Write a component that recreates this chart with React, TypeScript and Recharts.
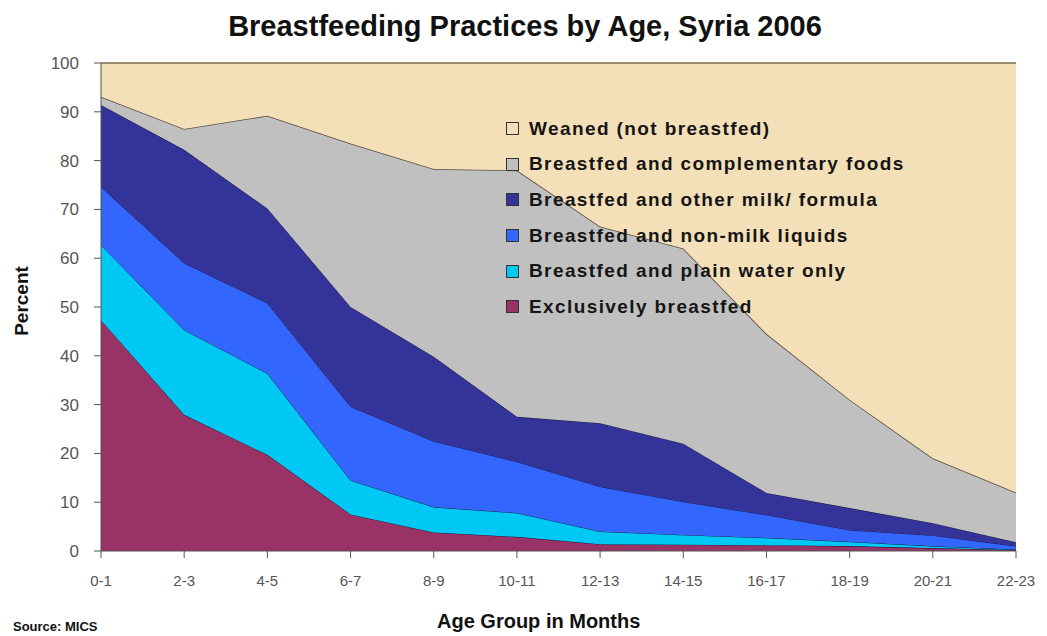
import React from "react";
import { AreaChart, Area, XAxis, YAxis } from "recharts";

const categories = ["0-1", "2-3", "4-5", "6-7", "8-9", "10-11", "12-13", "14-15", "16-17", "18-19", "20-21", "22-23"];
const exclusive = [47.3, 27.9, 19.7, 7.5, 3.8, 2.9, 1.4, 1.3, 1.2, 1.0, 0.6, 0.2];
const plainWater = [15.4, 17.4, 16.7, 7.0, 5.2, 4.9, 2.6, 2.0, 1.5, 0.9, 0.4, 0.1];
const nonMilk = [11.9, 13.7, 14.4, 15.1, 13.5, 10.5, 9.2, 6.8, 4.7, 2.4, 2.2, 0.7];
const otherMilk = [16.8, 23.2, 19.4, 20.4, 17.3, 9.2, 13.0, 11.9, 4.5, 4.5, 2.5, 0.8];
const complementary = [1.7, 4.3, 19.0, 33.5, 38.5, 50.5, 40.3, 40.0, 32.6, 22.2, 13.3, 10.2];
const weaned = [6.9, 13.5, 10.8, 16.5, 21.7, 22.0, 33.5, 38.0, 55.5, 69.0, 81.0, 88.0];
const yTicks = [0, 10, 20, 30, 40, 50, 60, 70, 80, 90, 100];

const series = [
  { key: "exclusive", name: "Exclusively breastfed", values: exclusive, fill: "#993366", stroke: "#1a1030" },
  { key: "water", name: "Breastfed and plain water only", values: plainWater, fill: "#00C8F5", stroke: "#10204a" },
  { key: "nonMilk", name: "Breastfed and non-milk liquids", values: nonMilk, fill: "#3366FF", stroke: "#101850" },
  { key: "otherMilk", name: "Breastfed and other milk/ formula", values: otherMilk, fill: "#333399", stroke: "#101030" },
  { key: "comp", name: "Breastfed and complementary foods", values: complementary, fill: "#C0C0C0", stroke: "#5a4e40" },
  { key: "weaned", name: "Weaned (not breastfed)", values: weaned, fill: "#F3DFB8", stroke: "#7a6a52" },
];

const data = categories.map((c, i) => {
  const row: Record<string, string | number> = { cat: c };
  series.forEach((s) => {
    row[s.key] = s.values[i];
  });
  return row;
});

const FONT = "Arial, 'Liberation Sans', sans-serif";

export default function App() {
  return (
    <div
      style={{
        position: "absolute",
        top: 0,
        left: 0,
        width: 1047,
        height: 636,
        overflow: "hidden",
        background: "#fff",
        fontFamily: FONT,
      }}
    >
      <div
        style={{
          position: "absolute",
          top: 10,
          left: 0,
          width: 1050,
          textAlign: "center",
          fontSize: 29,
          fontWeight: "bold",
          color: "#111",
          whiteSpace: "nowrap",
        }}
      >
        Breastfeeding Practices by Age, Syria 2006
      </div>
      <div style={{ position: "absolute", top: 0, left: 0 }}>
        <AreaChart
          width={1047}
          height={636}
          data={data}
          margin={{ top: 63, right: 31, bottom: 0, left: 0 }}
        >
          <XAxis
            dataKey="cat"
            height={85}
            tickLine={{ stroke: "#555" }}
            axisLine={{ stroke: "#555" }}
            tickSize={7}
            tick={{ fill: "#555", fontSize: 15, fontFamily: FONT }}
            tickMargin={17}
            interval={0}
          />
          <YAxis
            width={101}
            domain={[0, 100]}
            ticks={yTicks}
            interval={0}
            tickLine={{ stroke: "#555" }}
            axisLine={{ stroke: "#555" }}
            tickSize={7}
            tick={{ fill: "#555", fontSize: 17, fontFamily: FONT }}
            tickMargin={15}
          />
          {series.map((s) => (
            <Area
              key={s.key}
              type="linear"
              dataKey={s.key}
              name={s.name}
              stackId="a"
              fill={s.fill}
              fillOpacity={1}
              stroke={s.stroke}
              strokeWidth={s.key === "comp" || s.key === "weaned" ? 1.6 : 1}
              isAnimationActive={false}
              dot={false}
              activeDot={false}
            />
          ))}
        </AreaChart>
      </div>
      <div style={{ position: "absolute", left: 506, top: 111 }}>
        {[...series].reverse().map((s) => (
          <div key={s.key} style={{ display: "flex", alignItems: "center", height: 35.6 }}>
            <div
              style={{
                width: 11,
                height: 11,
                background: s.fill,
                border: "1px solid #333",
                marginRight: 10,
              }}
            />
            <span
              style={{
                fontSize: 19,
                fontWeight: "bold",
                color: "#151515",
                letterSpacing: 1.4,
                whiteSpace: "nowrap",
              }}
            >
              {s.name}
            </span>
          </div>
        ))}
      </div>
      <div
        style={{
          position: "absolute",
          left: 22,
          top: 301,
          transform: "translate(-50%, -50%) rotate(-90deg)",
          fontSize: 19,
          fontWeight: "bold",
          color: "#111",
          whiteSpace: "nowrap",
        }}
      >
        Percent
      </div>
      <div
        style={{
          position: "absolute",
          top: 610,
          left: 437,
          fontSize: 20,
          fontWeight: "bold",
          color: "#111",
          whiteSpace: "nowrap",
        }}
      >
        Age Group in Months
      </div>
      <div
        style={{
          position: "absolute",
          top: 619,
          left: 13,
          fontSize: 13,
          fontWeight: "bold",
          color: "#111",
          whiteSpace: "nowrap",
        }}
      >
        Source: MICS
      </div>
    </div>
  );
}
